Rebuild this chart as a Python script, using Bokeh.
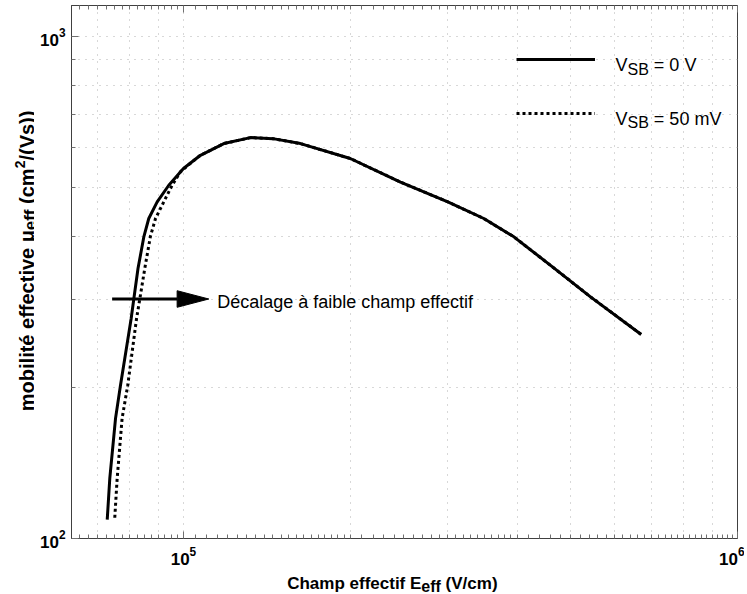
from math import pi
from bokeh.plotting import figure
from bokeh.layouts import row, column
from bokeh.models import (FixedTicker, LogAxis, CustomJSTickFormatter, Label,
                          Legend, LegendItem, Range1d)
from bokeh.embed import file_html
from bokeh.resources import INLINE

# ---------------- data ----------------
e_eff_vsb0 = [72840, 73620, 75400, 76970, 80450, 81350, 82780, 84850, 86570,
              89650, 94080, 100000, 107300, 118260, 132150, 145000, 162600,
              200000, 246400, 300000, 348400, 394800, 459800, 542800, 670200]
mu_vsb0 = [109, 131.7, 173.5, 202, 274, 300, 345, 400, 434,
           468.5, 505.5, 545.8, 580, 612, 629, 626, 612,
           571.5, 513, 468.5, 434, 399, 350, 303, 255]

e_eff_vsb50 = [75160, 75910, 77490, 79330, 82270, 83400, 85140, 87170, 89030,
               92140, 95400, 98760, 103500, 107300, 118260, 132150, 145000,
               162600, 200000, 246400, 300000, 348400, 394800, 459800, 542800,
               670200]
mu_vsb50 = [110, 131.7, 173.5, 202, 274, 300, 345, 400, 434,
            468.5, 505.5, 537.8, 562, 580, 612, 629, 626,
            612, 571.5, 513, 468.5, 434, 399, 350, 303,
            255]

x_major_ticks = [1e5, 1e6]
y_major_ticks = [100, 1000]
x_grid_minor = [7e4, 8e4, 9e4, 2e5, 3e5, 4e5, 5e5, 6e5, 7e5, 8e5, 9e5]
y_grid_minor = [200, 300, 400, 500, 600, 700, 800, 900]
x_axis_minor = ([62500 + 2500 * i for i in range(15)]
                + [105000 + 5000 * i for i in range(20)]
                + [210000 + 10000 * i for i in range(20)]
                + [420000 + 20000 * i for i in range(29)])
x_axis_minor = [t for t in x_axis_minor if t not in (1e5, 1e6)]

x_limits = (62790, 1e6)
y_limits = (100, 1153)

# annotation (arrow) values
arrow_start_x = 74340
arrow_head_base_x = 97400
arrow_tip_x = 111100
arrow_y = 300
arrow_head_y = [311.6, 300, 288.8]

FONT = "Liberation Sans"

# ---------------- page geometry (page pixels) ----------------
OX, OY = 0, 2        # where the layout starts on the page
YLAB_W = 34          # strip holding the y-axis title
MAIN_L, MAIN_T, MAIN_R, MAIN_B = 37, 5, 7, 34
FRAME_W, FRAME_H = 666, 533
MAIN_H = MAIN_T + FRAME_H + MAIN_B
XLAB_H = 20
FL = OX + YLAB_W + MAIN_L          # frame left in page px
FB = OY + MAIN_T + FRAME_H         # frame bottom in page px

# ---------------- main figure ----------------
p = figure(frame_width=FRAME_W, frame_height=FRAME_H,
           x_axis_type="log", y_axis_type="log",
           x_range=Range1d(*x_limits), y_range=Range1d(*y_limits),
           output_backend="svg", toolbar_location=None,
           min_border_left=MAIN_L, min_border_right=MAIN_R,
           min_border_top=MAIN_T, min_border_bottom=MAIN_B,
           background_fill_color="white", border_fill_color="white")
p.outline_line_color = "#404040"

grid_color = "#b0b0b0"
p.xgrid.ticker = FixedTicker(ticks=x_major_ticks, minor_ticks=x_grid_minor)
p.ygrid.ticker = FixedTicker(ticks=y_major_ticks, minor_ticks=y_grid_minor)
for g in (p.xgrid, p.ygrid):
    g.grid_line_color = grid_color
    g.grid_line_dash = "1 6"
    g.grid_line_width = 1
    g.minor_grid_line_color = grid_color
    g.minor_grid_line_dash = "1 6"
    g.minor_grid_line_width = 1


def style_axis(ax, labels=True):
    ax.axis_line_color = "#404040"
    ax.major_tick_line_color = "#707070"
    ax.minor_tick_line_color = "#707070"
    ax.major_tick_in = 7
    ax.major_tick_out = 0
    ax.minor_tick_in = 4
    ax.minor_tick_out = 0
    ax.major_label_text_font = FONT
    ax.major_label_text_font_style = "bold"
    ax.major_label_text_font_size = "17px"
    ax.major_label_text_color = "black"
    if not labels:
        ax.major_label_text_font_size = "0px"
        ax.major_label_standoff = 0


p.xaxis.ticker = FixedTicker(ticks=x_major_ticks, minor_ticks=x_axis_minor)
p.yaxis.ticker = FixedTicker(ticks=y_major_ticks, minor_ticks=y_grid_minor)
style_axis(p.xaxis[0])
style_axis(p.yaxis[0])
p.xaxis.major_label_standoff = 8
p.yaxis.major_label_standoff = 6

top_axis = LogAxis(ticker=FixedTicker(ticks=x_major_ticks, minor_ticks=x_axis_minor),
                   formatter=CustomJSTickFormatter(code="return ''"))
style_axis(top_axis, labels=False)
p.add_layout(top_axis, "above")

# ---------------- curves ----------------
r50 = p.line(e_eff_vsb50, mu_vsb50, line_color="black", line_width=3,
             line_dash="3 3")
r0 = p.line(e_eff_vsb0, mu_vsb0, line_color="black", line_width=3,
            line_join="round")

# ---------------- arrow ----------------
p.line([arrow_start_x, arrow_head_base_x], [arrow_y, arrow_y],
       line_color="black", line_width=3)
p.patch([arrow_head_base_x, arrow_tip_x, arrow_head_base_x], arrow_head_y,
        fill_color="black", line_color="black", line_width=1)

# ---------------- legend swatches ----------------
legend = Legend(items=[LegendItem(label=" ", renderers=[r0]),
                       LegendItem(label=" ", renderers=[r50])],
                location=(445, 415), glyph_width=79, glyph_height=20,
                label_standoff=0, label_width=1, label_height=20,
                spacing=34, padding=0, margin=0,
                border_line_alpha=0, background_fill_alpha=0,
                label_text_font_size="1px")
p.add_layout(legend)

# ---------------- text helpers ----------------
W_REG = {"V": 667, "S": 667, "B": 667, " ": 278, "=": 584, "0": 556, "5": 556,
         "m": 833}
W_BOLD = {"m": 889, "o": 611, "b": 611, "i": 278, "l": 278, "t": 333,
          "é": 556, " ": 278, "e": 556, "f": 333, "c": 556, "v": 556,
          "μ": 600, "(": 333, ")": 333, "/": 278, "V": 667, "s": 556,
          "2": 556, "C": 722, "h": 611, "a": 556, "p": 611, "E": 667}


def tw(s, size, bold):
    table = W_BOLD if bold else W_REG
    return sum(table.get(ch, 556) for ch in s) * size / 1000.0


def make_text(fig, org_x, org_y, text, X, Y, size, bold=False, angle=0.0):
    """Place text at page pixel (X, Y); org = page px of the frame's bottom-left."""
    fig.add_layout(Label(x=X - org_x, y=org_y - Y, x_units="screen",
                         y_units="screen", text=text, text_font=FONT,
                         text_font_size=f"{size}px",
                         text_font_style="bold" if bold else "normal",
                         text_baseline="alphabetic", text_align="left",
                         angle=angle, text_color="black"))


# legend texts
for txt, base in (("= 0 V", 66.7), ("= 50 mV", 120.0)):
    x0 = 615
    make_text(p, FL, FB, "V", x0, base, 18)
    x1 = x0 + tw("V", 18, False)
    make_text(p, FL, FB, "SB", x1, base + 4, 16)
    x2 = x1 + tw("SB", 16, False) + tw(" ", 18, False)
    make_text(p, FL, FB, txt, x2, base, 18)

# annotation text
make_text(p, FL, FB, "Décalage à faible champ effectif", 216.7, 303.5, 18)


def blank_fig(w, h):
    f = figure(width=w, height=h, x_range=Range1d(0, 1), y_range=Range1d(0, 1),
               x_axis_location=None, y_axis_location=None,
               output_backend="svg", toolbar_location=None,
               min_border=0, min_border_left=0, min_border_right=0,
               min_border_top=0, min_border_bottom=0,
               background_fill_color="white", border_fill_color="white")
    f.outline_line_color = None
    f.grid.visible = False
    return f


# ---------------- x axis title ----------------
# (in the column, this strip's frame is aligned with the main frame's left edge)
xf = blank_fig(MAIN_L + FRAME_W + MAIN_R, XLAB_H)
X_ORG, X_BOT = FL, OY + MAIN_H + XLAB_H
xb = 585.0
x0 = 286.7
make_text(xf, X_ORG, X_BOT, "Champ effectif E", x0, xb, 17, bold=True)
x1 = x0 + tw("Champ effectif E", 17, True)
make_text(xf, X_ORG, X_BOT, "eff", x1, xb + 3, 16, bold=True)
x2 = x1 + tw("eff", 16, True) + tw(" ", 17, True)
make_text(xf, X_ORG, X_BOT, "(V/cm)", x2, xb, 17, bold=True)

# ---------------- y axis title (vertical) ----------------
yf = blank_fig(YLAB_W, MAIN_H)
ybase = 26.5
yy = 412.7
pieces = [("mobilité effective μ", 20, 0, 0), ("eff", 17, 3, 0),
          ("(cm", 20, 0, tw(" ", 20, True)), ("2", 14, -7, 0),
          ("/(Vs))", 20, 0, 0)]
for txt, size, shift, gap in pieces:
    yy -= gap
    make_text(yf, OX, OY + MAIN_H, txt, ybase + shift, yy, size, bold=True,
              angle=pi / 2)
    yy -= tw(txt, size, True)

layout = row(yf, column(p, xf))
open("out.html", "w").write(file_html(layout, INLINE))
